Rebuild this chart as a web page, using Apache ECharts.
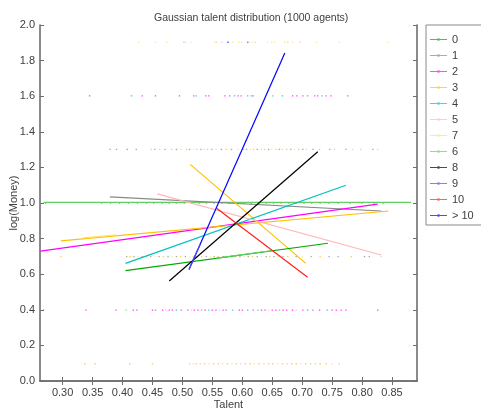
<!DOCTYPE html>
<html>
<head>
<meta charset="utf-8">
<script src="https://cdn.jsdelivr.net/npm/echarts@6/dist/echarts.min.js"></script>
<style>html,body{margin:0;padding:0;background:#fff;}#c{width:481px;height:411px;}</style>
</head>
<body>
<div id="c"></div>
<script>
// ---- data ----
const legendOrder = ['0','1','2','3','4','5','7','6','8','9','10','> 10'];
const categoryColors = ['#00a800','#888888','#ff00ff','#ffc000','#00c0c0','#ffb8b8','#ffe070','#60d060','#000000','#4848ff','#ff2020','#0000ff'];
const xTicks = [0.30,0.35,0.40,0.45,0.50,0.55,0.60,0.65,0.70,0.75,0.80,0.85];
const moneyLevels = [1.903, 1.602, 1.301, 1.0, 0.699, 0.398, 0.097];

// dots per money level: [talent, category]
const dots19 = [[0.427,'7'],[0.455,'7'],[0.474,'7'],[0.502,'5'],[0.505,'5'],[0.515,'7'],[0.554,'7'],[0.557,'5'],[0.566,'5'],[0.576,'> 10'],[0.584,'7'],[0.594,'7'],[0.599,'7'],[0.609,'9'],[0.612,'7'],[0.617,'7'],[0.622,'5'],[0.642,'7'],[0.649,'7'],[0.654,'7'],[0.671,'7'],[0.676,'5'],[0.684,'7'],[0.696,'5'],[0.724,'7'],[0.762,'7'],[0.844,'7']];
const dots16 = [[0.345,'2'],[0.415,'4'],[0.433,'2'],[0.455,'2'],[0.495,'2'],[0.519,'2'],[0.523,'4'],[0.539,'2'],[0.544,'2'],[0.571,'2'],[0.579,'2'],[0.587,'4'],[0.593,'2'],[0.598,'2'],[0.609,'4'],[0.615,'1'],[0.618,'9'],[0.651,'4'],[0.667,'4'],[0.684,'2'],[0.691,'2'],[0.701,'2'],[0.709,'4'],[0.721,'2'],[0.726,'2'],[0.733,'4'],[0.740,'2'],[0.748,'2'],[0.776,'2']];
const dots13 = [[0.379,'1'],[0.390,'1'],[0.408,'1'],[0.423,'1'],[0.448,'3'],[0.454,'1'],[0.462,'5'],[0.471,'1'],[0.482,'3'],[0.490,'1'],[0.498,'5'],[0.507,'3'],[0.512,'1'],[0.519,'7'],[0.524,'3'],[0.531,'1'],[0.536,'5'],[0.542,'3'],[0.549,'1'],[0.556,'7'],[0.565,'1'],[0.573,'3'],[0.582,'1'],[0.593,'5'],[0.602,'3'],[0.607,'1'],[0.614,'7'],[0.619,'3'],[0.625,'1'],[0.632,'5'],[0.637,'3'],[0.644,'1'],[0.649,'7'],[0.656,'3'],[0.662,'1'],[0.667,'5'],[0.674,'3'],[0.681,'1'],[0.687,'7'],[0.694,'3'],[0.701,'1'],[0.707,'5'],[0.718,'1'],[0.729,'3'],[0.746,'1'],[0.754,'5'],[0.773,'1'],[0.784,'5'],[0.798,'3'],[0.818,'1'],[0.826,'5']];
const dots10 = [[0.272,'0'],[0.365,'0'],[0.380,'0'],[0.395,'0'],[0.410,'0'],[0.425,'0'],[0.440,'0'],[0.452,'0'],[0.466,'0'],[0.478,'0'],[0.490,'0'],[0.503,'0'],[0.515,'0'],[0.528,'0'],[0.540,'0'],[0.553,'0'],[0.566,'0'],[0.578,'0'],[0.590,'0'],[0.603,'0'],[0.615,'0'],[0.628,'0'],[0.640,'0'],[0.652,'0'],[0.665,'0'],[0.678,'0'],[0.690,'0'],[0.703,'0'],[0.716,'0'],[0.730,'0'],[0.745,'0'],[0.760,'0'],[0.780,'0'],[0.800,'0'],[0.820,'0'],[0.835,'0']];
const dots07 = [[0.297,'3'],[0.407,'1'],[0.413,'3'],[0.419,'1'],[0.426,'7'],[0.433,'1'],[0.440,'3'],[0.447,'1'],[0.455,'7'],[0.461,'1'],[0.468,'3'],[0.476,'1'],[0.483,'7'],[0.490,'1'],[0.497,'3'],[0.505,'1'],[0.512,'7'],[0.518,'3'],[0.525,'1'],[0.532,'3'],[0.540,'1'],[0.547,'7'],[0.553,'1'],[0.560,'3'],[0.568,'1'],[0.575,'7'],[0.582,'1'],[0.589,'3'],[0.596,'1'],[0.603,'7'],[0.610,'1'],[0.617,'3'],[0.625,'1'],[0.632,'7'],[0.640,'1'],[0.646,'3'],[0.653,'1'],[0.660,'7'],[0.668,'1'],[0.676,'3'],[0.690,'1'],[0.700,'7'],[0.715,'1'],[0.730,'3'],[0.745,'1'],[0.760,'1'],[0.782,'3'],[0.804,'1'],[0.812,'1'],[0.832,'5']];
const dots04 = [[0.268,'2'],[0.339,'2'],[0.389,'2'],[0.406,'6'],[0.418,'2'],[0.424,'2'],[0.450,'2'],[0.455,'4'],[0.467,'2'],[0.472,'5'],[0.478,'2'],[0.483,'2'],[0.490,'4'],[0.498,'2'],[0.509,'2'],[0.515,'5'],[0.520,'2'],[0.526,'2'],[0.532,'6'],[0.538,'2'],[0.544,'4'],[0.550,'2'],[0.556,'2'],[0.562,'5'],[0.568,'2'],[0.573,'2'],[0.584,'4'],[0.595,'2'],[0.600,'2'],[0.609,'4'],[0.618,'2'],[0.626,'4'],[0.632,'2'],[0.638,'2'],[0.644,'5'],[0.650,'2'],[0.656,'2'],[0.662,'6'],[0.668,'2'],[0.674,'2'],[0.684,'2'],[0.690,'5'],[0.701,'2'],[0.709,'4'],[0.718,'2'],[0.729,'2'],[0.742,'4'],[0.750,'2'],[0.757,'2'],[0.765,'2'],[0.773,'2'],[0.826,'2']];
const dots01 = [[0.337,'3'],[0.354,'3'],[0.412,'3'],[0.450,'3'],[0.512,'3'],[0.518,'7'],[0.523,'3'],[0.530,'5'],[0.537,'3'],[0.545,'7'],[0.552,'3'],[0.560,'3'],[0.567,'5'],[0.575,'3'],[0.583,'7'],[0.590,'3'],[0.597,'5'],[0.605,'3'],[0.613,'3'],[0.620,'7'],[0.628,'3'],[0.636,'5'],[0.644,'3'],[0.651,'3'],[0.659,'7'],[0.667,'3'],[0.675,'5'],[0.683,'3'],[0.690,'3'],[0.698,'7'],[0.706,'3'],[0.714,'3'],[0.722,'5'],[0.730,'3'],[0.740,'3'],[0.750,'7'],[0.762,'3']];
const dotsByLevel = [dots19, dots16, dots13, dots10, dots07, dots04, dots01];

// fit lines: [category, talentStart, logMoneyStart, talentEnd, logMoneyEnd]
const fitLines = [
  ['6', 0.268, 1.003, 0.882, 1.003],
  ['1', 0.379, 1.034, 0.832, 0.955],
  ['2', 0.263, 0.730, 0.826, 0.994],
  ['3', 0.297, 0.787, 0.844, 0.955],
  ['7', 0.334, 0.804, 0.390, 0.821],
  ['3', 0.513, 1.217, 0.706, 0.661],
  ['4', 0.405, 0.661, 0.773, 1.100],
  ['5', 0.458, 1.051, 0.832, 0.708],
  ['0', 0.405, 0.620, 0.743, 0.774],
  ['6', 0.557, 0.690, 0.651, 0.733],
  ['8', 0.478, 0.562, 0.726, 1.288],
  ['10', 0.557, 0.970, 0.709, 0.583],
  ['> 10', 0.511, 0.627, 0.671, 1.843],
  ['9', 0.511, 0.627, 0.530, 0.770]
];

// ---- build ----
const FONT = 'Liberation Sans, Arial, sans-serif';
const TXT = '#404040';
const colorOf = c => categoryColors[legendOrder.indexOf(c)];
const series = [];
legendOrder.forEach(cat => {
  const pts = [];
  dotsByLevel.forEach((arr, i) => arr.forEach(d => { if (d[1] === cat) pts.push([d[0], moneyLevels[i]]); }));
  series.push({
    name: cat, type: 'scatter', data: pts, color: colorOf(cat),
    symbol: 'rect', symbolSize: 1.4, itemStyle: { opacity: 0.7 },
    silent: true, animation: false, z: 2
  });
});
fitLines.forEach(l => {
  series.push({
    name: l[0], type: 'line', data: [[l[1], l[2]], [l[3], l[4]]], color: colorOf(l[0]),
    showSymbol: false, symbol: 'none', lineStyle: { width: 1.2, color: colorOf(l[0]) },
    silent: true, animation: false, z: 3
  });
});

const axisLineStyle = { color: '#6e6e6e', width: 1.6 };
const tickStyle = { color: '#6e6e6e', width: 1 };
const option = {
  animation: false,
  backgroundColor: '#ffffff',
  title: {
    text: 'Gaussian talent distribution (1000 agents)',
    left: 149, top: 8,
    textStyle: { fontFamily: FONT, fontSize: 10.5, fontWeight: 'normal', color: TXT }
  },
  legend: {
    orient: 'vertical', left: 426, top: 25,
    backgroundColor: '#ffffff', borderColor: '#8a8a8a', borderWidth: 1,
    padding: [9, 10, 4, 4], itemWidth: 17, itemHeight: 3, itemGap: 5,
    icon: 'path://M0,1L17,1L17,2L0,2Z M7.5,0.2L9.5,0.2L9.5,2.8L7.5,2.8Z',
    textStyle: { fontFamily: FONT, fontSize: 11, color: TXT },
    selectedMode: false,
    data: legendOrder
  },
  grid: { left: 40, right: 64, top: 25, bottom: 30, outerBoundsMode: 'none', containLabel: false },
  xAxis: [{
    type: 'value', min: 0.2622, max: 0.8917, position: 'bottom',
    name: 'Talent', nameLocation: 'middle', nameGap: 18, nameMoveOverlap: false,
    nameTextStyle: { fontFamily: FONT, fontSize: 11, color: TXT },
    axisLine: { show: true, lineStyle: axisLineStyle },
    axisTick: { show: true, inside: true, length: 4, lineStyle: tickStyle, customValues: xTicks },
    axisLabel: { show: true, customValues: xTicks, formatter: v => v.toFixed(2), fontFamily: FONT, fontSize: 11, color: TXT, margin: 6 },
    splitLine: { show: false }
  }, {
    type: 'value', min: 0.2622, max: 0.8917, position: 'top',
    axisLine: { show: true, lineStyle: axisLineStyle },
    axisTick: { show: true, inside: true, length: 4, lineStyle: tickStyle, customValues: xTicks },
    axisLabel: { show: false }, splitLine: { show: false }
  }],
  yAxis: [{
    type: 'value', min: 0, max: 2, interval: 0.2, position: 'left',
    name: 'log(Money)', nameLocation: 'middle', nameGap: 21, nameMoveOverlap: false,
    nameTextStyle: { fontFamily: FONT, fontSize: 11, color: TXT },
    axisLine: { show: true, lineStyle: axisLineStyle },
    axisTick: { show: true, inside: true, length: 4, lineStyle: tickStyle },
    axisLabel: { formatter: v => v.toFixed(1), fontFamily: FONT, fontSize: 11, color: TXT, margin: 5 },
    splitLine: { show: false }
  }, {
    type: 'value', min: 0, max: 2, interval: 0.2, position: 'right',
    axisLine: { show: true, lineStyle: axisLineStyle },
    axisTick: { show: true, inside: true, length: 4, lineStyle: tickStyle },
    axisLabel: { show: false }, splitLine: { show: false }
  }],
  series: series
};
const chart = echarts.init(document.getElementById('c'), null, { renderer: 'canvas' });
chart.setOption(option);
</script>
</body>
</html>
